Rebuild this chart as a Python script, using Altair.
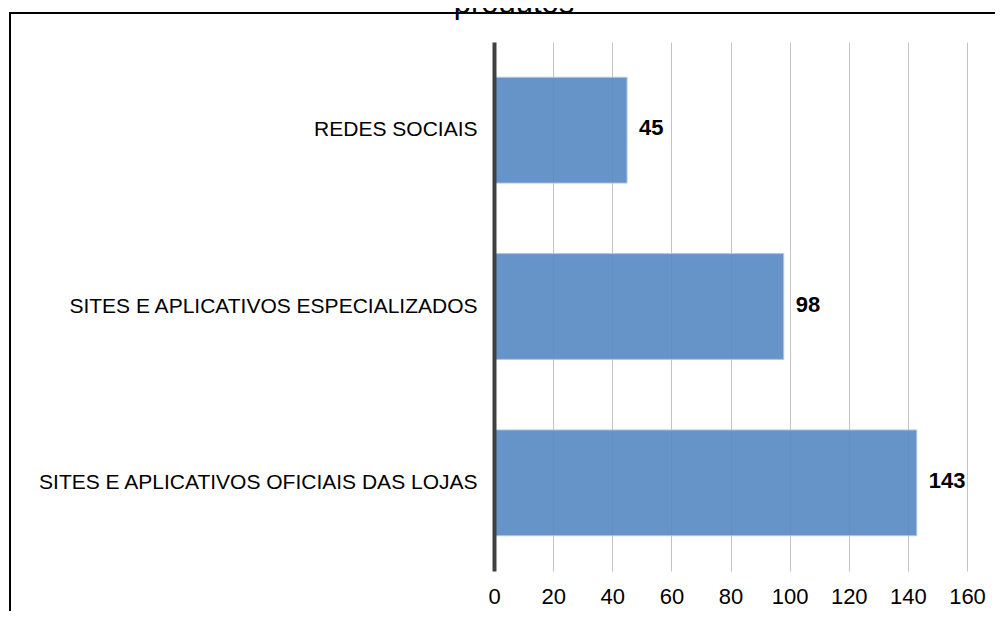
import altair as alt
import pandas as pd

categories = [
    "REDES SOCIAIS",
    "SITES E APLICATIVOS ESPECIALIZADOS",
    "SITES E APLICATIVOS OFICIAIS DAS LOJAS",
]
values = [45, 98, 143]
x_ticks = [0, 20, 40, 60, 80, 100, 120, 140, 160]
title_text = "produtos"

df = pd.DataFrame({"categoria": categories, "valor": values})

FONT = "Liberation Sans, Arial, sans-serif"

base = alt.Chart(df)

x_enc = alt.X(
    "valor:Q",
    scale=alt.Scale(domain=[0, 160], nice=False, zero=True),
    axis=alt.Axis(
        values=x_ticks,
        title=None,
        grid=True,
        gridColor="#c4c4c4",
        gridWidth=1,
        ticks=False,
        domain=False,
        labelFontSize=22,
        labelFont=FONT,
        labelColor="#000000",
        labelPadding=15,
        labelFlush=False,
        labelOverlap=False,
        zindex=0,
    ),
)
y_enc = alt.Y(
    "categoria:N",
    sort=categories,
    scale=alt.Scale(paddingInner=0.4, paddingOuter=0.2),
    axis=alt.Axis(
        title=None,
        ticks=False,
        domain=True,
        domainColor="#404040",
        domainWidth=4,
        labelFontSize=21,
        labelFont=FONT,
        labelColor="#000000",
        labelPadding=17,
        labelLimit=0,
        zindex=1,
    ),
)

bars = base.mark_bar(
    color="#5b8bc4", opacity=0.92, stroke="#a9c3e3", strokeWidth=1
).encode(x=x_enc, y=y_enc)

labels = base.mark_text(
    align="left", baseline="middle", dx=12, dy=-2,
    fontSize=22, fontWeight="bold", font=FONT, color="#000000"
).encode(x="valor:Q", y=alt.Y("categoria:N", sort=categories), text="valor:Q")

one = alt.Data(values=[{"k": 1}])

border_left = alt.Chart(one).mark_rule(color="#000000", strokeWidth=2).encode(
    x=alt.value(-484), y=alt.value(-29), y2=alt.value(610)
)
border_top = alt.Chart(one).mark_rule(color="#000000", strokeWidth=2).encode(
    x=alt.value(-485), x2=alt.value(520), y=alt.value(-29)
)
title = alt.Chart(one).mark_text(
    fontSize=31, font=FONT, color="#000000", align="center", baseline="alphabetic"
).encode(x=alt.value(20), y=alt.value(-29), text=alt.value(title_text))

chart = alt.layer(border_left, border_top, title, bars, labels).properties(
    width=473,
    height=529,
    padding={"left": 486, "top": 34, "right": 28, "bottom": 40},
    autosize=alt.AutoSizeParams(type="none"),
).configure_view(stroke=None)

chart.save("out.html", embed_options={"renderer": "svg", "actions": False})
